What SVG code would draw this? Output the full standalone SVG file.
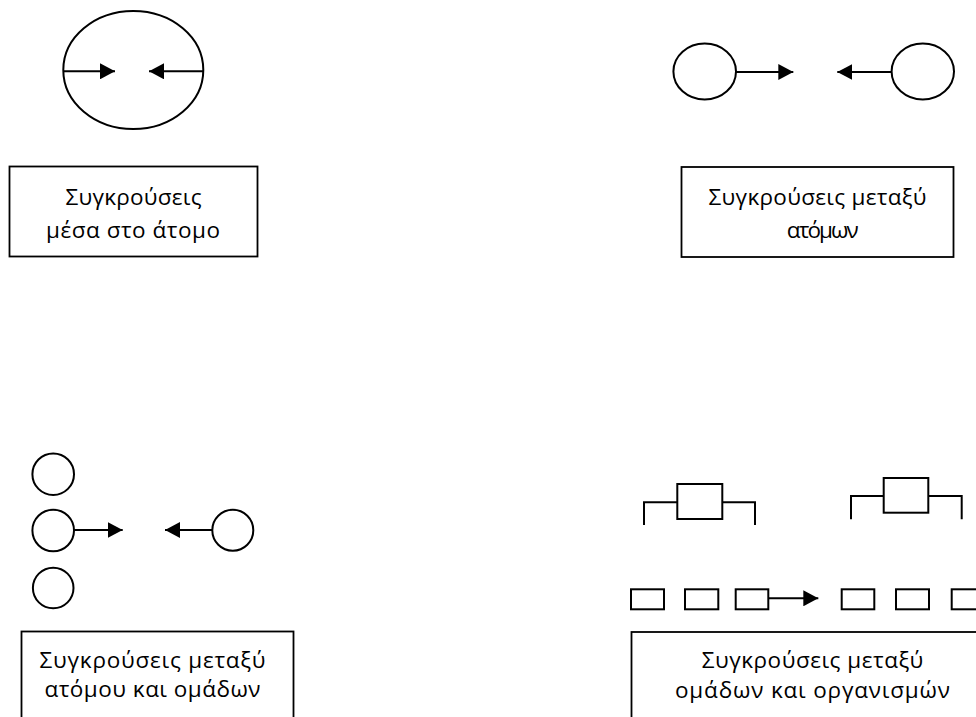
<svg xmlns="http://www.w3.org/2000/svg" width="976" height="717" viewBox="0 0 976 717">
<style>
.s{fill:none;stroke:#000;stroke-width:2}
.b{fill:#fff;stroke:#000;stroke-width:1.8}
.c{stroke:#000;stroke-width:2;fill:none}
.t{font-family:"Open Sans","Noto Sans","DejaVu Sans",sans-serif;font-size:22.5px;fill:#000;text-anchor:middle}
</style>
<defs>
<marker id="ah" markerUnits="userSpaceOnUse" markerWidth="16" markerHeight="16" refX="15" refY="8" orient="auto" viewBox="0 0 16 16">
<path d="M0,0 L15,8 L0,16 z" fill="#000"/>
</marker>
</defs>
<rect width="976" height="717" fill="#fff"/>

<g id="atom-ellipse">
<ellipse class="s" cx="133.3" cy="70" rx="70" ry="59"/>
</g>
<g id="atom-left">
<ellipse class="s" cx="704.7" cy="71.5" rx="31.3" ry="28"/>
</g>
<g id="atom-right">
<ellipse class="s" cx="922.8" cy="71.5" rx="31.2" ry="28"/>
</g>
<g id="group-circles">
<circle class="s" cx="53.2" cy="474.2" r="20.8"/>
<circle class="s" cx="53.2" cy="530.5" r="20.8"/>
<circle class="s" cx="53.2" cy="588" r="20.3"/>
</g>
<g id="single-circle">
<circle class="s" cx="232.8" cy="530.3" r="20.5"/>
</g>
<g id="org-left">
<polyline class="s" points="644,525 644,502.3 677.3,502.3"/>
<rect class="s" x="677.3" y="484" width="45" height="35"/>
<polyline class="s" points="722.3,502.3 755,502.3 755,525"/>
</g>
<g id="org-right">
<polyline class="s" points="851,519.3 851,496 883.7,496"/>
<rect class="s" x="883.7" y="478" width="44.6" height="34.7"/>
<polyline class="s" points="928.3,496 961.7,496 961.7,519.3"/>
</g>
<g id="small-rects-left">
<rect class="s" x="631" y="589.3" width="33" height="20"/>
<rect class="s" x="685" y="589.3" width="33.3" height="20"/>
<rect class="s" x="735.7" y="589.3" width="32.6" height="20"/>
</g>
<g id="small-rects-right">
<rect class="s" x="841.7" y="589.3" width="32.6" height="20"/>
<rect class="s" x="896" y="589.3" width="33" height="20"/>
<rect class="s" x="951.7" y="589.3" width="33" height="20"/>
</g>

<g id="connectors">
<line class="c" x1="63.3" y1="71.3" x2="115" y2="71.3" marker-end="url(#ah)"/>
<line class="c" x1="203.3" y1="71.3" x2="149" y2="71.3" marker-end="url(#ah)"/>
<line class="c" x1="736" y1="72" x2="793.3" y2="72" marker-end="url(#ah)"/>
<line class="c" x1="891.6" y1="72" x2="837.3" y2="72" marker-end="url(#ah)"/>
<line class="c" x1="74" y1="530" x2="122.7" y2="530" marker-end="url(#ah)"/>
<line class="c" x1="212.3" y1="530" x2="165" y2="530" marker-end="url(#ah)"/>
<line class="c" x1="768.3" y1="598.3" x2="818.3" y2="598.3" marker-end="url(#ah)"/>
</g>

<g id="label-1">
<rect class="b" x="9.5" y="166.5" width="248" height="90"/>
<text class="t" x="133.5" y="205" textLength="136">Συγκρούσεις</text>
<text class="t" x="133" y="238" textLength="174">μέσα στο άτομο</text>
</g>
<g id="label-2">
<rect class="b" x="681.5" y="167" width="272" height="90"/>
<text class="t" x="817.5" y="205" textLength="218">Συγκρούσεις μεταξύ</text>
<text class="t" x="822.8" y="238" textLength="72">ατόμων</text>
</g>
<g id="label-3">
<rect class="b" x="21.5" y="631.5" width="272" height="100"/>
<text class="t" x="152.5" y="668" textLength="226">Συγκρούσεις μεταξύ</text>
<text class="t" x="152.5" y="697" textLength="216">ατόμου και ομάδων</text>
</g>
<g id="label-4">
<rect class="b" x="631.5" y="632" width="362" height="100"/>
<text class="t" x="812.5" y="668" textLength="221.6">Συγκρούσεις μεταξύ</text>
<text class="t" x="812.5" y="698" textLength="275">ομάδων και οργανισμών</text>
</g>
</svg>
